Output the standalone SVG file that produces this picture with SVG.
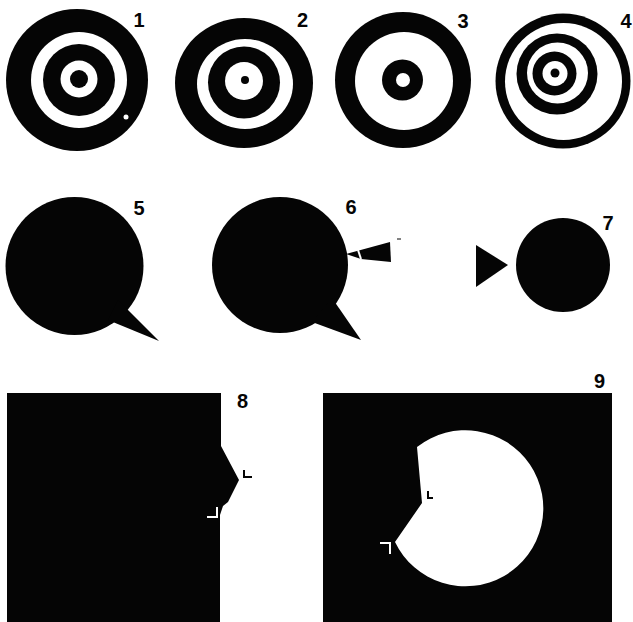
<svg xmlns="http://www.w3.org/2000/svg" width="633" height="622" viewBox="0 0 633 622">
<style>
.k{fill:#050505}
.w{fill:#ffffff}
.ws{fill:none;stroke:#ffffff;stroke-width:2}
.ks{fill:none;stroke:#050505;stroke-width:2}
.lbl{font-family:"Liberation Sans",Arial,sans-serif;font-weight:bold;font-size:20px;fill:#050505;text-anchor:middle}
</style>
<rect x="0" y="0" width="633" height="622" fill="#ffffff"/>
<g id="fig1">
<circle class="k" cx="77" cy="80" r="71"/>
<circle class="w" cx="79" cy="80" r="48"/>
<circle class="k" cx="79" cy="80" r="36"/>
<circle class="w" cx="79" cy="79" r="18.5"/>
<circle class="k" cx="79" cy="79" r="9"/>
<circle class="w" cx="126" cy="117" r="2.5"/>
<text class="lbl" x="139" y="27">1</text>
</g>
<g id="fig2">
<ellipse class="k" cx="244" cy="83" rx="69" ry="65"/>
<ellipse class="w" cx="245" cy="84" rx="48" ry="45"/>
<circle class="k" cx="244" cy="82.5" r="36"/>
<circle class="w" cx="244" cy="81" r="19"/>
<circle class="k" cx="245" cy="80" r="4"/>
<text class="lbl" x="302.5" y="27">2</text>
</g>
<g id="fig3">
<circle class="k" cx="403" cy="80" r="68"/>
<circle class="w" cx="404" cy="81" r="49"/>
<circle class="k" cx="402.5" cy="80" r="20.5"/>
<circle class="w" cx="403" cy="80" r="7"/>
<text class="lbl" x="463" y="28">3</text>
</g>
<g id="fig4">
<circle class="k" cx="563" cy="81" r="67.5"/>
<circle class="w" cx="563.5" cy="81.5" r="58.5"/>
<circle class="k" cx="557" cy="74" r="40.5"/>
<circle class="w" cx="557.5" cy="73" r="30.5"/>
<circle class="k" cx="554.5" cy="73.5" r="22"/>
<circle class="w" cx="555" cy="73.5" r="12.5"/>
<circle class="k" cx="555" cy="73" r="4.5"/>
<text class="lbl" x="626" y="28">4</text>
</g>
<g id="fig5">
<circle class="k" cx="74.5" cy="266" r="69"/>
<polygon class="k" points="118,300 159,341 108,320"/>
<text class="lbl" x="139" y="215">5</text>
</g>
<g id="fig6">
<circle class="k" cx="280" cy="265" r="68"/>
<polygon class="k" points="332,298 361,340 312,322"/>
<polygon class="k" points="346,254 390,242 391,262 361,259"/>
<line x1="358" y1="250" x2="361" y2="259" stroke="#ffffff" stroke-width="2"/>
<line x1="397" y1="239" x2="401" y2="239" stroke="#050505" stroke-width="1"/>
<text class="lbl" x="351" y="214">6</text>
</g>
<g id="fig7">
<circle class="k" cx="563" cy="265" r="47"/>
<polygon class="k" points="476,245 508,265 476,287"/>
<text class="lbl" x="608" y="230">7</text>
</g>
<g id="fig8">
<polygon class="k" points="7,393 221,393 221,446 239,480 228,502 223,506 220,515 220,622 7,622"/>
<path class="ws" d="M207,517 H217 V507"/>
<path class="ks" d="M244,470 V477 H252"/>
<text class="lbl" x="242.5" y="408">8</text>
</g>
<g id="fig9">
<rect class="k" x="323" y="393" width="289" height="229"/>
<path class="w" d="M417,447 A78,78 0 1 1 395,542 L422,503 Z"/>
<path class="ks" d="M428,491 V498 H433"/>
<path class="ws" d="M380,543 H390 V554"/>
<text class="lbl" x="599.5" y="388">9</text>
</g>
</svg>
